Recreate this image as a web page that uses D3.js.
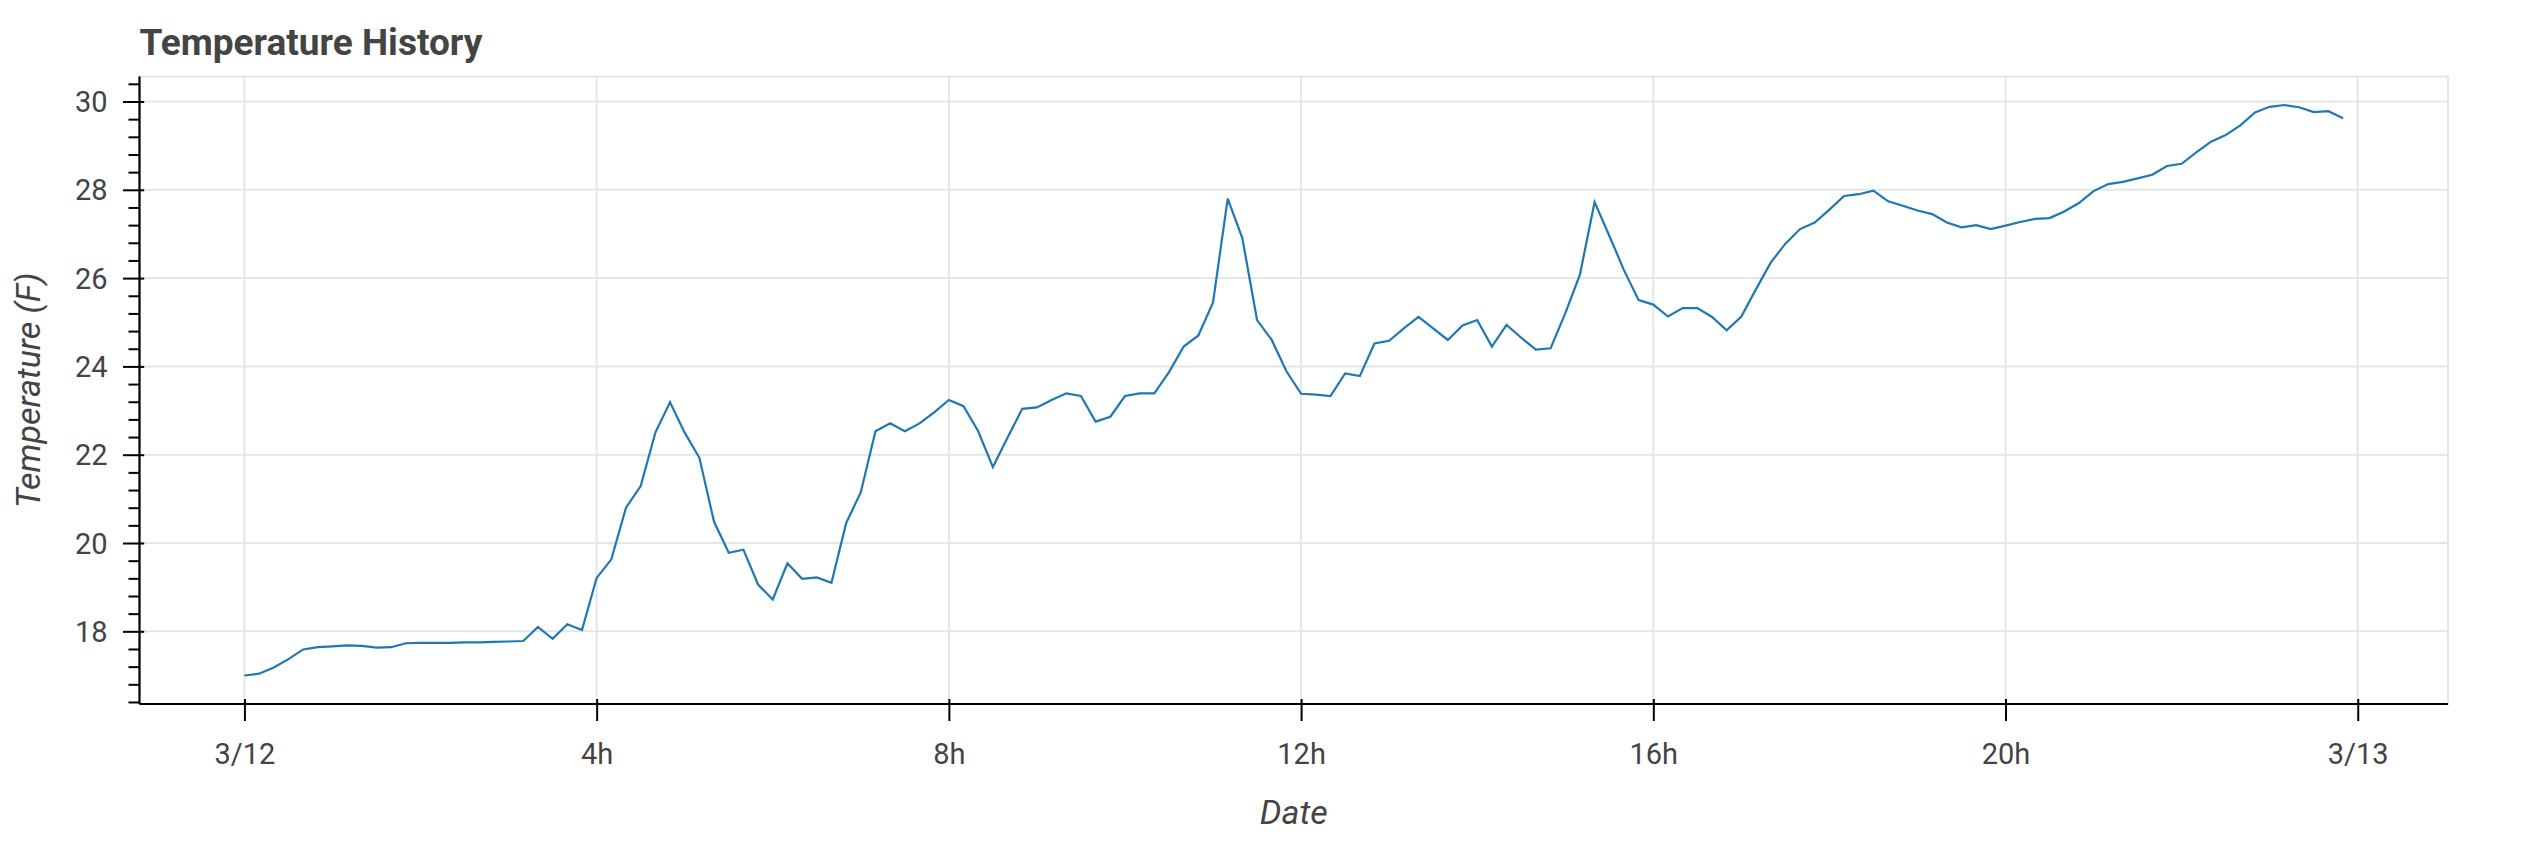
<!DOCTYPE html>
<html>
<head>
<meta charset="utf-8">
<script src="https://cdn.jsdelivr.net/npm/d3@7"></script>
<style>
  html, body { margin: 0; padding: 0; background: #fff; }
  svg { display: block; }
  text { font-family: Roboto, "Noto Sans", sans-serif; }
</style>
</head>
<body>
<div id="chart"></div>
<script>
// ---- Data ----
const dateStart = "2024-03-12";
const timeLabels = [
  "00:00","00:10","00:20","00:30","00:40","00:50",
  "01:00","01:10","01:20","01:30","01:40","01:50",
  "02:00","02:10","02:20","02:30","02:40","02:50",
  "03:00","03:10","03:20","03:30","03:40","03:50",
  "04:00","04:10","04:20","04:30","04:40","04:50",
  "05:00","05:10","05:20","05:30","05:40","05:50",
  "06:00","06:10","06:20","06:30","06:40","06:50",
  "07:00","07:10","07:20","07:30","07:40","07:50",
  "08:00","08:10","08:20","08:30","08:40","08:50",
  "09:00","09:10","09:20","09:30","09:40","09:50",
  "10:00","10:10","10:20","10:30","10:40","10:50",
  "11:00","11:10","11:20","11:30","11:40","11:50",
  "12:00","12:10","12:20","12:30","12:40","12:50",
  "13:00","13:10","13:20","13:30","13:40","13:50",
  "14:00","14:10","14:20","14:30","14:40","14:50",
  "15:00","15:10","15:20","15:30","15:40","15:50",
  "16:00","16:10","16:20","16:30","16:40","16:50",
  "17:00","17:10","17:20","17:30","17:40","17:50",
  "18:00","18:10","18:20","18:30","18:40","18:50",
  "19:00","19:10","19:20","19:30","19:40","19:50",
  "20:00","20:10","20:20","20:30","20:40","20:50",
  "21:00","21:10","21:20","21:30","21:40","21:50",
  "22:00","22:10","22:20","22:30","22:40","22:50",
  "23:00","23:10","23:20","23:30","23:40","23:50"
];
const temperatures = [
  17.00, 17.04, 17.18, 17.37, 17.59, 17.64,
  17.66, 17.68, 17.67, 17.63, 17.64, 17.73,
  17.74, 17.74, 17.74, 17.75, 17.75, 17.76,
  17.77, 17.78, 18.10, 17.83, 18.16, 18.03,
  19.21, 19.63, 20.80, 21.29, 22.50, 23.19,
  22.50, 21.93, 20.48, 19.78, 19.85, 19.06,
  18.72, 19.54, 19.19, 19.22, 19.10, 20.45,
  21.15, 22.53, 22.71, 22.53, 22.71, 22.96,
  23.24, 23.10, 22.53, 21.72, 22.39, 23.04,
  23.07, 23.24, 23.39, 23.33, 22.75, 22.86,
  23.33, 23.39, 23.39, 23.87, 24.45, 24.70,
  25.45, 27.80, 26.90, 25.05, 24.60, 23.89,
  23.38, 23.36, 23.33, 23.84, 23.78, 24.52,
  24.58, 24.86, 25.12, 24.86, 24.60, 24.93,
  25.05, 24.45, 24.94, 24.65, 24.38, 24.41,
  25.20, 26.08, 27.72, 26.96, 26.18, 25.50,
  25.40, 25.13, 25.32, 25.32, 25.12, 24.82,
  25.13, 25.75, 26.35, 26.78, 27.11, 27.26,
  27.55, 27.86, 27.90, 27.98, 27.74, 27.64,
  27.53, 27.45, 27.26, 27.15, 27.20, 27.11,
  27.19, 27.27, 27.34, 27.36, 27.51, 27.70,
  27.97, 28.13, 28.18, 28.26, 28.34, 28.54,
  28.59, 28.85, 29.09, 29.24, 29.46, 29.75,
  29.88, 29.92, 29.87, 29.76, 29.78, 29.62
];
const xTickTimes = ["2024-03-12 00:00","2024-03-12 04:00","2024-03-12 08:00","2024-03-12 12:00","2024-03-12 16:00","2024-03-12 20:00","2024-03-13 00:00"];
const xTickLabels = ["3/12","4h","8h","12h","16h","20h","3/13"];
const yMajorTicks = [18, 20, 22, 24, 26, 28, 30];
const yMinorTicks = [16.4,16.8,17.2,17.6,18.4,18.8,19.2,19.6,20.4,20.8,21.2,21.6,22.4,22.8,23.2,23.6,24.4,24.8,25.2,25.6,26.4,26.8,27.2,27.6,28.4,28.8,29.2,29.6,30.4];
const chartTitle = "Temperature History";
const xTitle = "Date";
const yTitle = "Temperature (F)";

// ---- Layout ----
const W = 2531, H = 843;
const plot = { left: 139.5, right: 2448, top: 76.5, bottom: 704 };

const parseT = d3.timeParse("%Y-%m-%d %H:%M");
const data = timeLabels.map((t, i) => ({ t: parseT(dateStart + " " + t), v: temperatures[i] }));

const tExt = d3.extent(data, d => d.t);
const tSpan = tExt[1] - tExt[0];
const vExt = d3.extent(data, d => d.v);
const vSpan = vExt[1] - vExt[0];

const x = d3.scaleTime()
  .domain([new Date(+tExt[0] - 0.05 * tSpan), new Date(+tExt[1] + 0.05 * tSpan)])
  .range([plot.left, plot.right]);
const y = d3.scaleLinear()
  .domain([vExt[0] - 0.05 * vSpan, vExt[1] + 0.05 * vSpan])
  .range([plot.bottom, plot.top]);

const svg = d3.select("#chart").append("svg").attr("width", W).attr("height", H);

const gridColor = "#e5e5e5";
const textColor = "#444444";
const xTicks = xTickTimes.map(parseT);

// Plot border
svg.append("rect")
  .attr("x", plot.left).attr("y", plot.top)
  .attr("width", plot.right - plot.left).attr("height", plot.bottom - plot.top)
  .attr("fill", "none").attr("stroke", gridColor).attr("stroke-width", 2);

// Grid
svg.append("g").selectAll("line").data(xTicks).join("line")
  .attr("x1", d => x(d)).attr("x2", d => x(d))
  .attr("y1", plot.top).attr("y2", plot.bottom)
  .attr("stroke", gridColor).attr("stroke-width", 2);
svg.append("g").selectAll("line").data(yMajorTicks).join("line")
  .attr("x1", plot.left).attr("x2", plot.right)
  .attr("y1", d => y(d)).attr("y2", d => y(d))
  .attr("stroke", gridColor).attr("stroke-width", 2);

// Line
svg.append("path").datum(data)
  .attr("fill", "none").attr("stroke", "#1f77b4").attr("stroke-width", 2.2)
  .attr("stroke-linejoin", "miter")
  .attr("d", d3.line().x(d => x(d.t)).y(d => y(d.v)));

// Y axis minor ticks
const yMinor = svg.append("g").attr("transform", `translate(${plot.left},0)`)
  .call(d3.axisLeft(y).tickValues(yMinorTicks).tickSize(11).tickSizeOuter(0).tickFormat(""));
yMinor.select(".domain").remove();
yMinor.selectAll("line").attr("stroke", "#000").attr("stroke-width", 2);

// Y axis major
const yAxis = svg.append("g").attr("transform", `translate(${plot.left},0)`)
  .call(d3.axisLeft(y).tickValues(yMajorTicks).tickSize(16.5).tickSizeOuter(0).tickPadding(15.5));
yAxis.select(".domain").attr("stroke", "#000").attr("stroke-width", 2.2)
  .attr("d", `M0,${plot.top}V${plot.bottom}`);
yAxis.selectAll(".tick line").attr("stroke", "#000").attr("stroke-width", 2).attr("x1", 4.7);
yAxis.selectAll(".tick text").attr("font-size", 29).attr("fill", textColor)
  .attr("font-family", "Roboto").attr("dy", "0.35em");

// X axis
const xAxis = svg.append("g").attr("transform", `translate(0,${plot.bottom})`)
  .call(d3.axisBottom(x).tickValues(xTicks).tickSize(17).tickSizeOuter(0).tickPadding(22.3)
    .tickFormat((d, i) => xTickLabels[i]));
xAxis.select(".domain").attr("stroke", "#000").attr("stroke-width", 2.2)
  .attr("d", `M${plot.left},0H${plot.right}`);
xAxis.selectAll(".tick line").attr("stroke", "#000").attr("stroke-width", 2).attr("y1", -5);
xAxis.selectAll(".tick text").attr("font-size", 29).attr("fill", textColor).attr("font-family", "Roboto");

// Titles
svg.append("text").attr("x", plot.left).attr("y", 54.5)
  .attr("font-size", 37).attr("font-weight", "bold").attr("fill", textColor)
  .text(chartTitle);
svg.append("text").attr("x", (plot.left + plot.right) / 2).attr("y", 824)
  .attr("text-anchor", "middle").attr("font-size", 34).attr("font-style", "italic")
  .attr("fill", textColor).text(xTitle);
svg.append("text")
  .attr("transform", `translate(40,${(plot.top + plot.bottom) / 2}) rotate(-90)`)
  .attr("text-anchor", "middle").attr("font-size", 34).attr("font-style", "italic")
  .attr("fill", textColor).text(yTitle);
</script>
</body>
</html>
